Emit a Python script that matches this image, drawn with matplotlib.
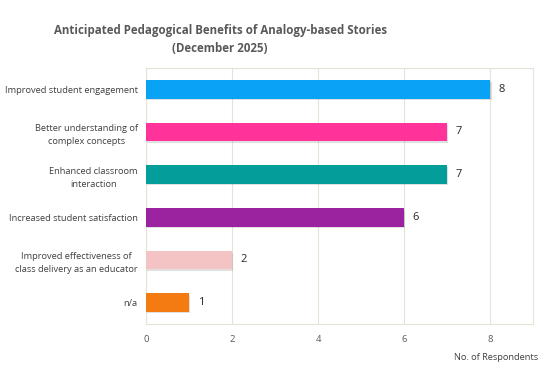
import matplotlib.pyplot as plt
import numpy as np

categories = ['Improved student engagement',
              'Better understanding of\ncomplex concepts',
              'Enhanced classroom\ninteraction',
              'Increased student satisfaction',
              'Improved effectiveness of\nclass delivery as an educator',
              'n/a']
counts = [8, 7, 7, 6, 2, 1]
colors = ['#0AA2F5', '#FF3399', '#049E9A', '#9C23A0', '#F4C3C3', '#F47A12']
xticks = [0, 2, 4, 6, 8]

plt.rcParams['font.family'] = ['Open Sans', 'DejaVu Sans']
fig = plt.figure(figsize=(5.59, 3.75), dpi=100)
ax = fig.add_axes([0.261, 0.136, 0.693, 0.683])

y = np.arange(len(categories))
# soft shadow under bars
ax.barh(y + 0.04, counts, height=0.42, left=0.03, color='#000000', alpha=0.12, zorder=2)
ax.barh(y, counts, height=0.44, color=colors, zorder=3)
for yi, v in zip(y, counts):
    ax.text(v + 0.2, yi, str(v), va='center', ha='left', fontsize=8, color='#262626')

ax.set_xlim(0, 9)
ax.set_ylim(len(categories) - 0.5, -0.5)
ax.set_xticks(xticks)
ax.set_yticks(y)
ax.set_yticklabels(categories, fontsize=6.7, color='#404040', ha='right',
                   multialignment='center', linespacing=1.6)
ax.tick_params(axis='x', labelsize=6.8, colors='#595959', length=0, pad=8)
ax.tick_params(axis='y', length=0, pad=6)
ax.grid(axis='x', color='#E6E2D8', linewidth=0.8, zorder=0)
for s in ['top', 'right', 'bottom', 'left']:
    ax.spines[s].set_color('#E6E2D8')
    ax.spines[s].set_linewidth(0.8)

fig.text(0.394, 0.895, 'Anticipated Pedagogical Benefits of Analogy-based Stories\n(December 2025)',
         ha='center', va='center', fontsize=8.3, fontweight='bold', color='#595959', linespacing=1.45)
fig.text(0.963, 0.048, 'No. of Respondents', ha='right', va='center', fontsize=6.7, color='#404040')

fig.savefig('out.png', dpi=100)
